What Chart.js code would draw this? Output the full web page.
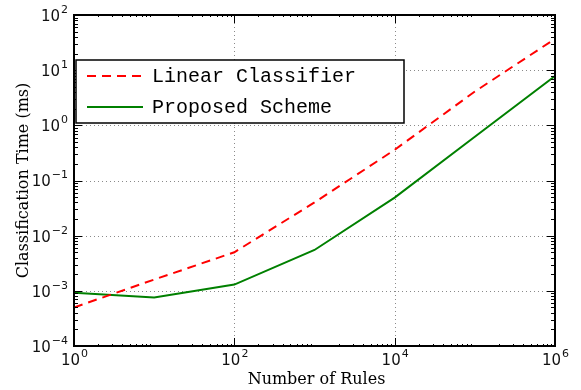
<!DOCTYPE html>
<html>
<head>
<meta charset="utf-8">
<script src="https://cdn.jsdelivr.net/npm/chart.js@4"></script>
<style>
  html, body { margin:0; padding:0; background:#fff; }
  #wrap { width:581px; height:390px; position:relative; }
</style>
</head>
<body>
<div id="wrap"><canvas id="chart" width="581" height="390"></canvas></div>
<script>
// Classification time vs number of rules (log-log)
const rules = [1, 10, 100, 1000, 10000, 100000, 1000000];
const linearTime = [5.0e-4, 1.6e-3, 5.0e-3, 0.040, 0.36, 4.1, 37];
const proposedTime = [9.2e-4, 7.6e-4, 1.3e-3, 5.5e-3, 0.049, 0.62, 7.8];
const seriesNames = ['Linear Classifier', 'Proposed Scheme'];
const xMajorExp = [0, 2, 4, 6];
const yMajorExp = [-4, -3, -2, -1, 0, 1, 2];
const xTitle = 'Number of Rules';
const yTitle = 'Classification Time (ms)';

const toPts = ys => rules.map((x, i) => ({x, y: ys[i]}));

const axesPlugin = {
  id: 'mplAxes',
  beforeDatasetsDraw(chart) {
    const {ctx, chartArea: a, scales: {x, y}} = chart;
    ctx.save();
    ctx.strokeStyle = '#8a8a8a';
    ctx.lineWidth = 1;
    ctx.setLineDash([1, 3]);
    xMajorExp.forEach(e => {
      const px = Math.round(x.getPixelForValue(Math.pow(10, e))) + 0.5;
      ctx.beginPath(); ctx.moveTo(px, a.top); ctx.lineTo(px, a.bottom); ctx.stroke();
    });
    yMajorExp.forEach(e => {
      const py = Math.round(y.getPixelForValue(Math.pow(10, e))) + 0.5;
      ctx.beginPath(); ctx.moveTo(a.left, py); ctx.lineTo(a.right, py); ctx.stroke();
    });
    ctx.restore();
  },
  afterDatasetsDraw(chart) {
    const {ctx, chartArea: a, scales: {x, y}} = chart;
    ctx.save();
    ctx.strokeStyle = '#000';
    ctx.lineWidth = 1;
    // minor + major ticks, y axis (both sides, inward)
    for (let e = -4; e <= 2; e++) {
      for (let m = 1; m <= 9; m++) {
        const v = m * Math.pow(10, e);
        if (v > 100.0001) break;
        const py = Math.round(y.getPixelForValue(v)) + 0.5;
        const len = m === 1 ? 8 : 4;
        ctx.beginPath();
        ctx.moveTo(a.left, py); ctx.lineTo(a.left + len, py);
        ctx.moveTo(a.right, py); ctx.lineTo(a.right - len, py);
        ctx.stroke();
      }
    }
    // x axis ticks
    for (let e = 0; e <= 6; e++) {
      for (let m = 1; m <= 9; m++) {
        const v = m * Math.pow(10, e);
        if (v > 1e6 + 1) break;
        const px = Math.round(x.getPixelForValue(v)) + 0.5;
        let len = 2;
        if (m === 1) len = (e % 2 === 0) ? 8 : 0;
        if (!len) continue;
        ctx.beginPath();
        ctx.moveTo(px, a.bottom); ctx.lineTo(px, a.bottom - len);
        ctx.moveTo(px, a.top); ctx.lineTo(px, a.top + len);
        ctx.stroke();
      }
    }
    // frame
    ctx.lineWidth = 2;
    ctx.strokeRect(a.left, a.top, a.right - a.left, a.bottom - a.top);

    // tick labels
    ctx.fillStyle = '#111';
    const drawPow = (e, px, py, align) => {
      ctx.font = '15px "DejaVu Sans"';
      const base = '10';
      const bw = ctx.measureText(base).width;
      ctx.font = '11px "DejaVu Sans"';
      const es = e < 0 ? '\u2212' + Math.abs(e) : String(e);
      const ew = ctx.measureText(es).width;
      let left = align === 'right' ? px - bw - ew : px - (bw + ew) / 2;
      ctx.textBaseline = 'middle';
      ctx.textAlign = 'left';
      ctx.font = '15px "DejaVu Sans"';
      ctx.fillText(base, left, py);
      ctx.font = '11px "DejaVu Sans"';
      ctx.fillText(es, left + bw + 1, py - 7);
    };
    yMajorExp.forEach(e => drawPow(e, a.left - 7, y.getPixelForValue(Math.pow(10, e)) + 2, 'right'));
    xMajorExp.forEach(e => drawPow(e, x.getPixelForValue(Math.pow(10, e)), a.bottom + 15, 'center'));

    // axis titles
    ctx.fillStyle = '#000';
    ctx.font = '16px "DejaVu Serif"';
    ctx.textAlign = 'center';
    ctx.textBaseline = 'middle';
    ctx.fillText(xTitle, (a.left + a.right) / 2 + 2, a.bottom + 34);
    ctx.save();
    ctx.translate(24, (a.top + a.bottom) / 2);
    ctx.rotate(-Math.PI / 2);
    ctx.fillText(yTitle, 0, 0);
    ctx.restore();

    // legend box inside plot
    const bx = a.left + 2, by = 60, bw = 328, bh = 63;
    ctx.fillStyle = '#fff';
    ctx.fillRect(bx, by, bw, bh);
    ctx.lineWidth = 1.5;
    ctx.strokeStyle = '#000';
    ctx.strokeRect(bx, by, bw, bh);
    chart.data.datasets.forEach((ds, i) => {
      const ly = by + 16 + i * 31;
      ctx.save();
      ctx.strokeStyle = ds.borderColor;
      ctx.lineWidth = 2;
      ctx.setLineDash(ds.borderDash || []);
      ctx.beginPath(); ctx.moveTo(bx + 11, ly); ctx.lineTo(bx + 67, ly); ctx.stroke();
      ctx.restore();
      ctx.fillStyle = '#000';
      ctx.font = '20px "Liberation Mono"';
      ctx.textAlign = 'left';
      ctx.textBaseline = 'middle';
      ctx.fillText(ds.label, bx + 76, ly + 1);
    });
    ctx.restore();
  }
};

new Chart(document.getElementById('chart'), {
  type: 'line',
  data: {
    datasets: [
      {label: seriesNames[0], data: toPts(linearTime), borderColor: '#ff0000', borderWidth: 2,
       borderDash: [9, 6], pointRadius: 0, fill: false, tension: 0},
      {label: seriesNames[1], data: toPts(proposedTime), borderColor: '#008000', borderWidth: 2,
       pointRadius: 0, fill: false, tension: 0}
    ]
  },
  options: {
    responsive: false,
    animation: false,
    layout: {padding: {left: 74, right: 26, top: 15, bottom: 44}},
    plugins: {legend: {display: false}, tooltip: {enabled: false}},
    scales: {
      x: {type: 'logarithmic', min: 1, max: 1e6, display: false},
      y: {type: 'logarithmic', min: 1e-4, max: 100, display: false}
    }
  },
  plugins: [axesPlugin]
});
</script>
</body>
</html>
